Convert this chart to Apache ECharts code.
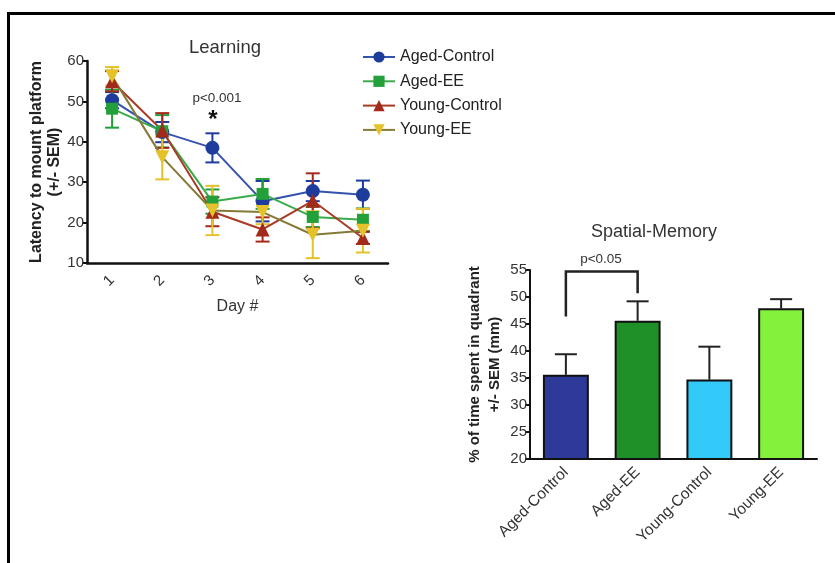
<!DOCTYPE html>
<html>
<head>
<meta charset="utf-8">
<script src="https://cdn.jsdelivr.net/npm/echarts@6/dist/echarts.min.js"></script>
<style>html,body{margin:0;padding:0;background:#fff}#c{width:835px;height:563px}</style>
</head>
<body>
<div id="c"></div>
<script>
// ---- Learning (line chart) data ----
const days = ['1', '2', '3', '4', '5', '6'];
const lineSeriesNames = ['Aged-Control', 'Aged-EE', 'Young-Control', 'Young-EE'];
const agedCtrl = [50.3, 42.4, 38.5, 25.3, 27.8, 26.9];
const agedCtrlSem = [2.0, 2.5, 3.6, 5.0, 2.5, 3.5];
const agedEE = [48.2, 42.6, 25.2, 27.1, 21.4, 20.7];
const agedEESem = [4.7, 4.0, 3.0, 3.7, 2.5, 2.8];
const youngCtrl = [55.0, 42.8, 22.7, 18.3, 25.4, 16.2];
const youngCtrlSem = [2.5, 4.3, 3.6, 3.0, 6.8, 1.5];
const youngEE = [56.2, 36.2, 23.0, 22.6, 17.0, 18.0];
const youngEESem = [2.3, 5.5, 6.1, 3.0, 5.8, 5.4];
const learnTicks = [10, 20, 30, 40, 50, 60];

// ---- Spatial-Memory (bar chart) data ----
const groups = ['Aged-Control', 'Aged-EE', 'Young-Control', 'Young-EE'];
const memMean = [35.6, 45.6, 34.7, 47.9];
const memSem = [3.8, 3.6, 6.1, 1.7];
const memTicks = [20, 25, 30, 35, 40, 45, 50, 55];
// significance bracket: [fromIndex, toIndex, top, leftLegBottom, rightLegBottom]
const bracket = [0, 1, 54.7, 46.4, 50.7];

const FONT = '"Liberation Sans", Arial, sans-serif';
const lineColors = ['#1e3c9c', '#23a03a', '#a3291b', '#e5c22a'];
const lineStroke = ['#3552ad', '#3aab4a', '#a83a26', '#857a35'];
const barColors = ['#2e3a98', '#1f8f27', '#33c9f8', '#84f23c'];
const means = [agedCtrl, agedEE, youngCtrl, youngEE];
const sems = [agedCtrlSem, agedEESem, youngCtrlSem, youngEESem];
const symbols = ['circle', 'rect', 'triangle', 'path://M0,0 L10,0 L5,9 Z'];

function errRender(color, cap, both, lw) {
  return function (params, api) {
    const x = api.value(0);
    const lo = api.coord([x, api.value(1)]);
    const hi = api.coord([x, api.value(2)]);
    const s = { stroke: color, lineWidth: lw };
    const children = [
      { type: 'line', shape: { x1: hi[0], y1: lo[1], x2: hi[0], y2: hi[1] }, style: s },
      { type: 'line', shape: { x1: hi[0] - cap, y1: hi[1], x2: hi[0] + cap, y2: hi[1] }, style: s }
    ];
    if (both) children.push({ type: 'line', shape: { x1: lo[0] - cap, y1: lo[1], x2: lo[0] + cap, y2: lo[1] }, style: s });
    return { type: 'group', children: children };
  };
}

const series = [];
// error bars for line chart
means.forEach((m, i) => {
  series.push({
    type: 'custom', xAxisIndex: 0, yAxisIndex: 0, z: 2, silent: true,
    renderItem: errRender(lineColors[i], 7, true, 2),
    data: m.map((v, k) => [k, v - sems[i][k], v + sems[i][k]])
  });
});
means.forEach((m, i) => {
  series.push({
    name: lineSeriesNames[i], type: 'line', xAxisIndex: 0, yAxisIndex: 0, z: 3,
    data: m, symbol: symbols[i], symbolSize: i === 1 ? 12 : 14,
    lineStyle: { color: lineStroke[i], width: 2 },
    itemStyle: { color: lineColors[i] },
    animation: false
  });
});
// bars
series.push({
  type: 'bar', xAxisIndex: 1, yAxisIndex: 1, barWidth: '64%',
  data: memMean.map((v, i) => ({ value: v, itemStyle: { color: barColors[i] } })),
  itemStyle: { borderColor: '#111', borderWidth: 2 }, z: 3
});
series.push({
  type: 'custom', xAxisIndex: 1, yAxisIndex: 1, z: 2, silent: true,
  renderItem: errRender('#222', 11, false, 2),
  data: memMean.map((v, i) => [i, v, v + memSem[i]])
});
series.push({
  type: 'custom', xAxisIndex: 1, yAxisIndex: 1, z: 4, silent: true,
  renderItem: function (params, api) {
    const a = api.coord([api.value(0), api.value(2)]);
    const b = api.coord([api.value(1), api.value(2)]);
    const la = api.coord([api.value(0), api.value(3)]);
    const rb = api.coord([api.value(1), api.value(4)]);
    return {
      type: 'polyline',
      shape: { points: [[a[0], la[1]], [a[0], a[1]], [b[0], b[1]], [b[0], rb[1]]] },
      style: { stroke: '#222', lineWidth: 2.5, fill: null }
    };
  },
  data: [bracket]
});

const chart = echarts.init(document.getElementById('c'), null, { renderer: 'canvas' });
chart.setOption({
  animation: false,
  textStyle: { fontFamily: FONT },
  title: [
    { text: 'Learning', left: 220, top: 33, textAlign: 'center', textStyle: { fontSize: 18.5, fontWeight: 'normal', color: '#333', fontFamily: FONT } },
    { text: 'Spatial-Memory', left: 649, top: 218, textAlign: 'center', textStyle: { fontSize: 18, fontWeight: 'normal', color: '#333', fontFamily: FONT } }
  ],
  legend: {
    data: lineSeriesNames, orient: 'vertical', left: 357, top: 44,
    itemWidth: 32, itemHeight: 14, itemGap: 8.3,
    textStyle: { fontSize: 16, color: '#222', fontFamily: FONT }
  },
  grid: [
    { left: 87, top: 61, width: 301, height: 202 },
    { left: 530, top: 270, width: 287, height: 189 }
  ],
  xAxis: [
    {
      gridIndex: 0, type: 'category', data: days, boundaryGap: true,
      name: 'Day #', nameLocation: 'middle', nameGap: 36,
      nameTextStyle: { fontSize: 16, color: '#333' },
      axisLine: { lineStyle: { color: '#111', width: 2.5 } },
      axisTick: { alignWithLabel: true, length: 6, lineStyle: { color: '#111', width: 2 } },
      axisLabel: { rotate: 45, fontSize: 15, color: '#333', margin: 15 }
    },
    {
      gridIndex: 1, type: 'category', data: groups, boundaryGap: true,
      axisLine: { lineStyle: { color: '#111', width: 2 } },
      axisTick: { alignWithLabel: true, length: 6, lineStyle: { color: '#111', width: 2 } },
      axisLabel: { rotate: 45, fontSize: 15.5, color: '#333', margin: 11 }
    }
  ],
  yAxis: [
    {
      gridIndex: 0, type: 'value', min: 10, max: 60, interval: 10,
      name: 'Latency to mount platform\n(+/- SEM)', nameLocation: 'middle', nameGap: 21, nameRotate: 90,
      nameTextStyle: { fontSize: 16, fontWeight: 'bold', color: '#222', lineHeight: 18 },
      axisLine: { show: true, lineStyle: { color: '#111', width: 2.5 } },
      axisTick: { show: true, length: 5, lineStyle: { color: '#111', width: 2 } },
      axisLabel: { fontSize: 15, color: '#333', margin: 3 },
      splitLine: { show: false }
    },
    {
      gridIndex: 1, type: 'value', min: 20, max: 55, interval: 5,
      name: '% of time spent in quadrant\n+/- SEM (mm)', nameLocation: 'middle', nameGap: 25, nameRotate: 90,
      nameTextStyle: { fontSize: 15, fontWeight: 'bold', color: '#222', lineHeight: 20 },
      axisLine: { show: true, lineStyle: { color: '#111', width: 2 } },
      axisTick: { show: true, length: 5, lineStyle: { color: '#111', width: 2 } },
      axisLabel: { fontSize: 15, color: '#333', margin: 3 },
      splitLine: { show: false }
    }
  ],
  graphic: [
    { type: 'rect', shape: { x: 8.5, y: 13.5, width: 900, height: 600 }, style: { stroke: '#000', lineWidth: 3, fill: null }, silent: true },
    { type: 'text', x: 217, y: 98, style: { text: 'p<0.001', fontSize: 13.5, fill: '#333', align: 'center', verticalAlign: 'middle', fontFamily: FONT } },
    { type: 'text', x: 213, y: 120, style: { text: '*', fontSize: 24, fontWeight: 'bold', fill: '#111', align: 'center', verticalAlign: 'middle', fontFamily: FONT } },
    { type: 'text', x: 601, y: 259, style: { text: 'p<0.05', fontSize: 13.5, fill: '#333', align: 'center', verticalAlign: 'middle', fontFamily: FONT } }
  ],
  series: series
});
</script>
</body>
</html>
